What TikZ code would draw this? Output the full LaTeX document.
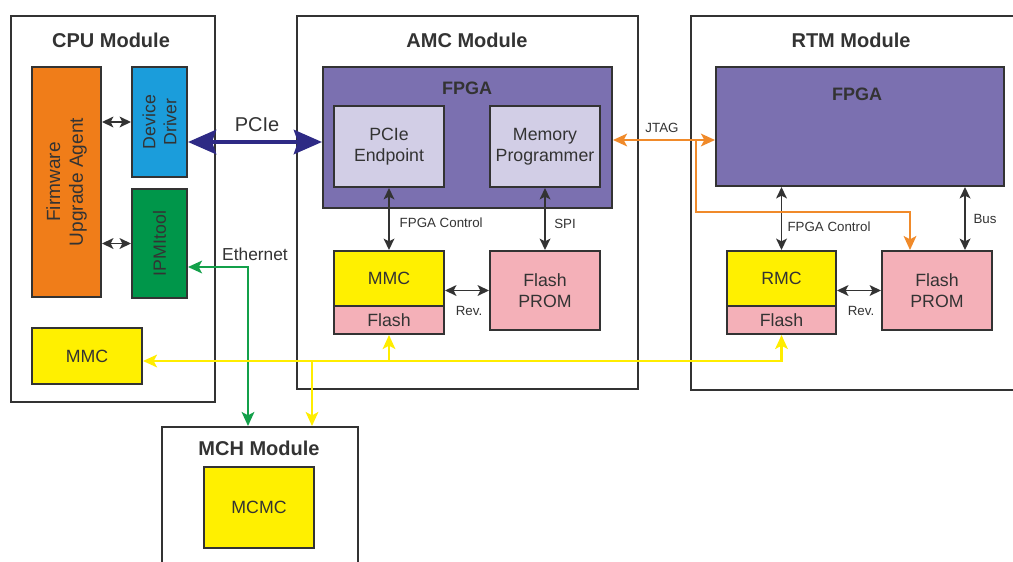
\documentclass[tikz,border=0pt]{standalone}
\usepackage{fontspec}
\setmainfont{Liberation Sans}
\usetikzlibrary{fit,arrows.meta}

\definecolor{ink}{HTML}{333333}
\definecolor{fuaorange}{HTML}{F07D19}
\definecolor{drvblue}{HTML}{1B9DDB}
\definecolor{ipmigreen}{HTML}{00964A}
\definecolor{mmcyellow}{HTML}{FFF000}
\definecolor{flashpink}{HTML}{F4B0B8}
\definecolor{fpgapurple}{HTML}{7B70B0}
\definecolor{corelav}{HTML}{D2CEE6}
\definecolor{pcienavy}{HTML}{2E2A85}
\definecolor{jtagorange}{HTML}{F08A2A}
\definecolor{busyellow}{HTML}{FFED00}
\definecolor{ethgreen}{HTML}{13A04A}

\begin{document}
\begin{tikzpicture}[x=0.75pt,y=-0.75pt,
  every node/.style={text=ink},
  module/.style={draw=ink,line width=1.5pt,fill=white,inner sep=0pt},
  block/.style={draw=ink,line width=1.5pt,inner sep=0pt,align=center},
  body/.style={align=center,font=\fontsize{13.3}{15.8}\selectfont},
  modtitle/.style={font=\bfseries\fontsize{15}{17}\selectfont},
  small/.style={font=\fontsize{10}{12}\selectfont},
  biarrow/.style={draw=ink,line width=1.4pt,
    {Stealth[length=8.5pt,width=8pt,inset=2pt]}-{Stealth[length=8.5pt,width=8pt,inset=2pt]}},
  colarrow/.style={line width=1.6pt,-{Stealth[length=10.5pt,width=9.5pt,inset=2.5pt]}},
  colbiarrow/.style={line width=1.6pt,
    {Stealth[length=10.5pt,width=9.5pt,inset=2.5pt]}-{Stealth[length=10.5pt,width=9.5pt,inset=2.5pt]}},
]
\useasboundingbox (0,0) rectangle (1013,561);

% ---------- module frames ----------
\node[module,fit={(11,16)(215,402)}] (cpu) {};
\node[module,fit={(297,16)(638,389)}] (amc) {};
\node[module,fit={(691,16)(1030,390)}] (rtm) {};
\node[module,fit={(162,427)(358,580)}] (mch) {};

\node[modtitle] (cputitle) at (111,40) {CPU Module};
\node[modtitle] (amctitle) at (467,40) {AMC Module};
\node[modtitle] (rtmtitle) at (851,40) {RTM Module};
\node[modtitle] (mchtitle) at (259,448) {MCH Module};

% ---------- CPU module ----------
\node[block,fill=fuaorange,fit={(32,67)(101,297)}] (fua) {};
\node[rotate=90,align=center,font=\fontsize{14.3}{17}\selectfont] (fuatext) at (fua.center) {Firmware\\Upgrade Agent};
\node[block,fill=drvblue,fit={(132,67)(187,177)}] (dd) {};
\node[rotate=90,body] (ddtext) at (dd.center) {Device\\Driver};
\node[block,fill=ipmigreen,fit={(132,189)(187,298)}] (ipmi) {};
\node[rotate=90,body] (ipmitext) at (ipmi.center) {IPMItool};
\node[block,fill=mmcyellow,fit={(32,328)(142,384)}] (cpummc) {};
\node[body] (cpummctext) at (cpummc.center) {MMC};

% ---------- AMC module ----------
\node[block,fill=fpgapurple,fit={(323,67)(612,208)}] (afpga) {};
\node[font=\bfseries\fontsize{13.5}{16}\selectfont] (afpgatext) at (467,88) {FPGA};
\node[block,fill=corelav,fit={(334,106)(444,187)}] (aep) {};
\node[body] (aeptext) at (aep.center) {PCIe\\Endpoint};
\node[block,fill=corelav,fit={(490,106)(600,187)}] (amp) {};
\node[body] (amptext) at (amp.center) {Memory\\Programmer};
\node[block,fill=mmcyellow,fit={(334,251)(444,306)}] (ammc) {};
\node[body] (ammctext) at (ammc.center) {MMC};
\node[block,fill=flashpink,fit={(334,306)(444,334)}] (aflash) {};
\node[body] (aflashtext) at (aflash.center) {Flash};
\node[block,fill=flashpink,fit={(490,251)(600,330)}] (aprom) {};
\node[body] (apromtext) at (aprom.center) {Flash\\PROM};

% ---------- RTM module ----------
\node[block,fill=fpgapurple,fit={(716,67)(1004,186)}] (rfpga) {};
\node[font=\bfseries\fontsize{13.5}{16}\selectfont] (rfpgatext) at (857,94) {FPGA};
\node[block,fill=mmcyellow,fit={(727,251)(836,306)}] (rmc) {};
\node[body] (rmctext) at (rmc.center) {RMC};
\node[block,fill=flashpink,fit={(727,306)(836,334)}] (rflash) {};
\node[body] (rflashtext) at (rflash.center) {Flash};
\node[block,fill=flashpink,fit={(882,251)(992,330)}] (rprom) {};
\node[body] (rpromtext) at (rprom.center) {Flash\\PROM};

% ---------- MCH module ----------
\node[block,fill=mmcyellow,fit={(204,467)(314,548)}] (mcmc) {};
\node[body] (mcmctext) at (mcmc.center) {MCMC};

% ---------- routing points ----------
\coordinate (pcieY) at (0,142);
\coordinate (jtagY) at (0,140);
\coordinate (jtagfork) at (696,140);
\coordinate (jtagbend) at (910,212);
\coordinate (busX) at (965,0);
\coordinate (ipmbY) at (0,361);
\coordinate (ipmbfork) at (312,361);
\coordinate (eth) at (248,267);

% ---------- internal links ----------
\draw[biarrow] (fua.east |- dd.west) -- (dd.west);
\draw[biarrow] (fua.east |- ipmi.west) -- (ipmi.west);
\draw[biarrow] (aep.south) -- (ammc.north);
\draw[biarrow] (amp.south) -- (aprom.north);
\draw[biarrow] (ammc.east |- aprom.west) -- (aprom.west);
\draw[biarrow] (rmc.north |- rfpga.south) -- (rmc.north);
\draw[biarrow] (rfpga.south -| busX) -- (rprom.north -| busX);
\draw[biarrow] (rmc.east |- rprom.west) -- (rprom.west);

\node[small,anchor=west] (fcA) at (395,223) {FPGA Control};
\node[small] (spi) at (565,224) {SPI};
\node[small] (revA) at (469,311) {Rev.};
\node[small] (fcR) at (829,227) {FPGA Control};
\node[small] (bus) at (985,219) {Bus};
\node[small] (revR) at (861,311) {Rev.};

% ---------- PCIe ----------
\draw[pcienavy,line width=3.5pt,
  {Stealth[length=21pt,width=18pt,inset=3pt]}-{Stealth[length=21pt,width=18pt,inset=3pt]}]
  (dd.east |- pcieY) -- (afpga.west |- pcieY);
\node[font=\fontsize{15}{17}\selectfont] (pcielabel) at (257,125) {PCIe};

% ---------- JTAG ----------
\draw[jtagorange,colbiarrow] (afpga.east |- jtagY) -- (rfpga.west |- jtagY);
\draw[jtagorange,colarrow] (jtagfork) |- (jtagbend) -- (rprom.north -| jtagbend);
\node[small] (jtag) at (662,128) {JTAG};

% ---------- Ethernet ----------
\draw[ethgreen,colbiarrow] (ipmi.east |- eth) -| (mch.north -| eth);
\node[font=\fontsize{13}{15}\selectfont] (ethlabel) at (255,254) {Ethernet};

% ---------- IPMB bus ----------
\draw[busyellow,colbiarrow] (cpummc.east |- ipmbY) -| (rflash.south);
\draw[busyellow,colarrow] (aflash.south |- ipmbY) -- (aflash.south);
\draw[busyellow,colarrow] (ipmbfork) -- (mch.north -| ipmbfork);

\end{tikzpicture}
\end{document}
